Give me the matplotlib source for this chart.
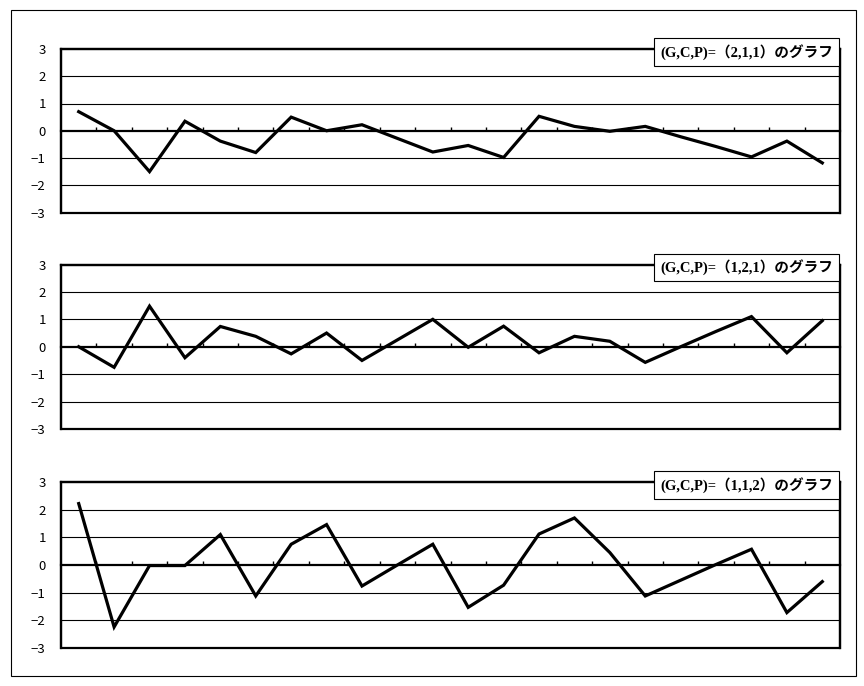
import numpy as np
import matplotlib
matplotlib.use("Agg")
import matplotlib.pyplot as plt
from matplotlib.patches import Rectangle

plt.rcParams['font.family'] = ['Noto Sans CJK JP', 'DejaVu Sans']

categories = list(range(1, 23))

series_211 = [0.7, 0.0, -1.5, 0.35, -0.38, -0.8, 0.5, 0.0, 0.22, -0.28, -0.78,
              -0.54, -0.98, 0.53, 0.16, -0.02, 0.16, -0.22, -0.58, -0.96, -0.38, -1.18]
series_121 = [0.0, -0.75, 1.48, -0.4, 0.74, 0.38, -0.26, 0.5, -0.5, 0.25, 1.0,
              -0.02, 0.75, -0.22, 0.38, 0.2, -0.57, 0.0, 0.56, 1.1, -0.22, 0.95]
series_112 = [2.22, -2.24, -0.02, -0.02, 1.1, -1.12, 0.75, 1.46, -0.76, 0.0, 0.75,
              -1.53, -0.73, 1.12, 1.7, 0.45, -1.12, -0.55, 0.02, 0.57, -1.72, -0.6]

titles = ["(G,C,P)=（2,1,1）のグラフ",
          "(G,C,P)=（1,2,1）のグラフ",
          "(G,C,P)=（1,1,2）のグラフ"]
yticks = [-3, -2, -1, 0, 1, 2, 3]
ytick_labels = ["\u22123", "\u22122", "\u22121", "0", "1", "2", "3"]

W, H = 864, 686
fig = plt.figure(figsize=(W / 100, H / 100), dpi=100)
fig.patch.set_facecolor('white')

# outer border
fig.patches.append(Rectangle((10.5 / W, 1 - 676 / H), (856 - 10.5) / W, (676 - 10) / H,
                             transform=fig.transFigure, fill=False, lw=0.8, ec='black'))

panels = [(49, 212.5), (264.5, 429), (482, 648)]
left_px, right_px = 61, 840
all_series = [series_211, series_121, series_112]

for (top, bot), vals, title in zip(panels, all_series, titles):
    ax = fig.add_axes([left_px / W, 1 - bot / H, (right_px - left_px) / W, (bot - top) / H])
    x = np.arange(len(categories))
    ax.set_xlim(-0.5, len(categories) - 0.5)
    ax.set_ylim(-3, 3)
    ax.set_yticks(yticks)
    ax.set_yticklabels(ytick_labels, fontsize=9.5)
    ax.tick_params(axis='y', length=0, pad=11)
    for sp in ['top', 'left', 'right']:
        ax.spines[sp].set_linewidth(1.6)
    ax.spines['bottom'].set_position(('data', 0))
    ax.spines['bottom'].set_linewidth(1.6)
    ax.set_xticks(np.arange(len(categories) - 1) + 0.5)
    ax.set_xticklabels([])
    ax.tick_params(axis='x', direction='in', length=3, width=1)
    for yv in [-2, -1, 1, 2]:
        ax.axhline(yv, color='black', lw=0.8, zorder=1)
    ax.add_patch(Rectangle((0, 0), 1, 1, transform=ax.transAxes, fill=False,
                           lw=1.6, ec='black', zorder=3, clip_on=False))
    ax.plot(x, vals, color='black', lw=2.3, zorder=4, solid_joinstyle='miter')
    ax.annotate(title, xy=(1, 1), xycoords='axes fraction',
                xytext=(-7, -3), textcoords='offset pixels',
                ha='right', va='center', fontsize=10.5, fontweight='bold',
                family=['Liberation Serif', 'Noto Sans CJK JP'],
                bbox=dict(boxstyle='square,pad=0.4', fc='white', ec='black', lw=0.8),
                zorder=6, annotation_clip=False)

fig.savefig('out.png', dpi=100)
